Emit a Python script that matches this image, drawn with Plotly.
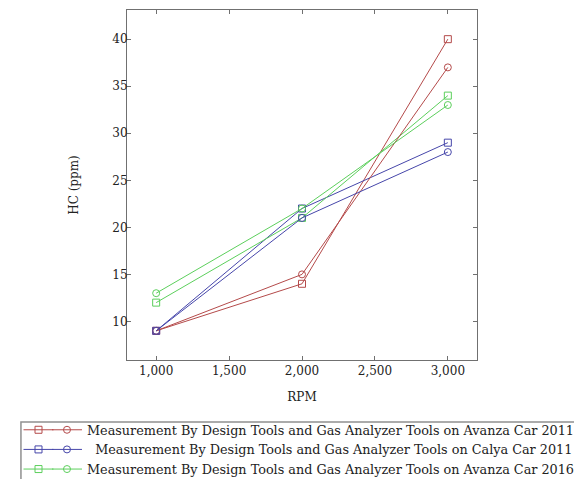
import plotly.graph_objects as go

rpm = [1000, 2000, 3000]
avanza2011_design = [9, 14, 40]
avanza2011_gas = [9, 15, 37]
calya2011_design = [9, 22, 29]
calya2011_gas = [9, 21, 28]
avanza2016_design = [12, 21, 34]
avanza2016_gas = [13, 22, 33]

labels = [
    "Measurement By Design Tools and Gas Analyzer Tools on Avanza Car 2011",
    "\u00a0\u00a0Measurement By Design Tools and Gas Analyzer Tools on Calya Car 2011",
    "Measurement By Design Tools and Gas Analyzer Tools on Avanza Car 2016",
]
colors = ["#b44a4a", "#4646aa", "#5ccf5c"]
x_ticks = [1000, 1500, 2000, 2500, 3000]
y_ticks = [10, 15, 20, 25, 30, 35, 40]

FONT = "DejaVu Serif"
TXT = "#222222"
fig = go.Figure()
series = [
    (avanza2011_design, avanza2011_gas),
    (calya2011_design, calya2011_gas),
    (avanza2016_design, avanza2016_gas),
]
for i, (sq, ci) in enumerate(series):
    fig.add_trace(go.Scatter(
        x=rpm, y=sq, mode="lines+markers", name=" ",
        line=dict(color=colors[i], width=1),
        marker=dict(symbol="square-open", size=7, color=colors[i], line=dict(width=1)),
        legend="legend",
    ))
for i, (sq, ci) in enumerate(series):
    fig.add_trace(go.Scatter(
        x=rpm, y=ci, mode="lines+markers", name=labels[i],
        line=dict(color=colors[i], width=1),
        marker=dict(symbol="circle-open", size=7, color=colors[i], line=dict(width=1)),
        legend="legend2",
    ))

axis_common = dict(
    showline=True, mirror="ticks", linecolor="#707070", linewidth=1,
    ticks="inside", ticklen=4, tickcolor="#707070",
    showgrid=False, zeroline=False,
    tickfont=dict(family=FONT, size=12, color=TXT),
)
fig.update_xaxes(range=[800, 3200], tickvals=x_ticks,
                 ticktext=[f"{v:,}" for v in x_ticks], ticklabelstandoff=0,
                 title=dict(text="RPM", font=dict(family=FONT, size=12, color=TXT), standoff=15),
                 **axis_common)
fig.update_yaxes(range=[5.9, 43.1], tickvals=y_ticks, ticklabelstandoff=-4,
                 title=dict(text="HC (ppm)", font=dict(family=FONT, size=12, color=TXT), standoff=31),
                 **axis_common)

legend_font = dict(family=FONT, size=12.8, color=TXT)
fig.update_layout(
    width=582, height=479, autosize=False,
    plot_bgcolor="white", paper_bgcolor="white",
    margin=dict(l=119, r=113, t=2, b=127, autoexpand=False),
    legend=dict(x=-0.31, y=-0.157, xanchor="left", yanchor="top",
                bgcolor="rgba(0,0,0,0)", borderwidth=0, font=legend_font,
                tracegroupgap=0, itemclick=False),
    legend2=dict(x=-0.2286, y=-0.157, xanchor="left", yanchor="top",
                 bgcolor="rgba(0,0,0,0)", borderwidth=0, font=legend_font,
                 tracegroupgap=0, itemclick=False),
    shapes=[dict(type="rect", xref="paper", yref="paper",
                 x0=-0.303, x1=1.283, y0=-0.177, y1=-0.45,
                 line=dict(color="#909090", width=1.5))],
)
fig.write_html("out.html")
